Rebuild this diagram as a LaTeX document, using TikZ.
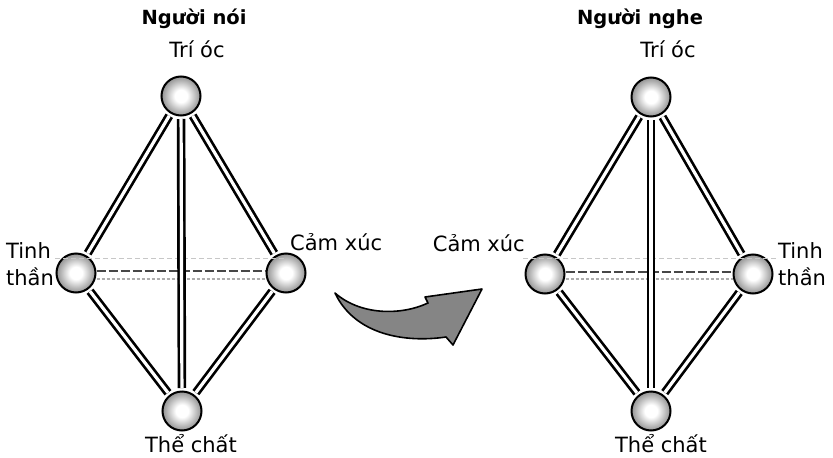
\documentclass[tikz,border=0pt]{standalone}
\usepackage{fontspec}
\setmainfont{DejaVu Sans}
\pgfdeclareradialshading{spherefill}{\pgfpoint{0bp}{0bp}}{color(0bp)=(white); color(8bp)=(white); color(28bp)=(black!50); color(50bp)=(black!72)}
\tikzset{
  ball/.style={circle, minimum size=39pt, inner sep=0pt, draw=black, line width=2pt, shading=spherefill},
  rod/.style={draw=black, line width=2.7pt, double=white, double distance=3.2pt, shorten <=2.5pt, shorten >=2.5pt},
  darkdash/.style={draw=black!72, line width=2.2pt, dash pattern=on 9pt off 3pt},
  lightdash/.style={draw=black!32, line width=1.1pt, dash pattern=on 3pt off 2pt},
  faint/.style={draw=black!22, line width=0.6pt, dash pattern=on 5pt off 3pt},
  lbl/.style={font=\fontsize{21}{24}\selectfont, inner sep=0pt},
  headlbl/.style={font=\bfseries\fontsize{19.5}{22}\selectfont, inner sep=0pt},
  bigarrow/.style={fill=black!48, draw=black, line width=1.6pt, line join=round},
}
\begin{document}
\begin{tikzpicture}[x=1pt, y=-1pt]
\fill[white] (0,0) rectangle (833,458);
\useasboundingbox (0,0) rectangle (833,458);

% ---------- left diamond (speaker) ----------
\node[ball] (lt) at (181,96) {};
\node[ball] (ll) at (76,273) {};
\node[ball] (lr) at (286,273) {};
\node[ball] (lb) at (182,411) {};

\coordinate (lf1) at (55,258);
\coordinate (lf2) at (287,258);
\draw[faint] (lf1) -- (lf2);
\draw[darkdash] ([yshift=2pt]ll.east) -- ([yshift=2pt]lr.west);
\draw[lightdash] ([yshift=-6pt]ll.east) -- ([yshift=-6pt]lr.west);

\draw[rod] (lt) -- (ll);
\draw[rod] (lt) -- (lr);
\draw[rod] (lt) -- (lb);
\draw[rod] (ll) -- (lb);
\draw[rod] (lr) -- (lb);

\node[headlbl, anchor=base] (hl) at (194,24) {Người nói};
\node[lbl, anchor=base] (tl) at (197,57) {Trí óc};
\node[lbl, anchor=base west] (tinhl) at (6,258) {Tinh};
\node[lbl, anchor=base west] (thanl) at (6,285) {thần};
\node[lbl, anchor=base west] (caml) at (290,250) {Cảm xúc};
\node[lbl, anchor=base] (thel) at (191,452) {Thể chất};

% ---------- right diamond (listener) ----------
\node[ball] (rt) at (651,97) {};
\node[ball] (rl) at (545,274) {};
\node[ball] (rr) at (753,274) {};
\node[ball] (rb) at (651,411) {};

\coordinate (rf1) at (523,258);
\coordinate (rf2) at (776,258);
\draw[faint] (rf1) -- (rf2);
\draw[darkdash] ([yshift=2pt]rl.east) -- ([yshift=2pt]rr.west);
\draw[lightdash] ([yshift=-5pt]rl.east) -- ([yshift=-5pt]rr.west);

\draw[rod] (rt) -- (rl);
\draw[rod] (rt) -- (rr);
\draw[rod] (rt) -- (rb);
\draw[rod] (rl) -- (rb);
\draw[rod] (rr) -- (rb);

\node[headlbl, anchor=base] (hr) at (640,24) {Người nghe};
\node[lbl, anchor=base] (tr) at (668,57) {Trí óc};
\node[lbl, anchor=base west] (tinhr) at (778,258) {Tinh};
\node[lbl, anchor=base west] (thanr) at (778,285) {thần};
\node[lbl, anchor=base east] (camr) at (525,251) {Cảm xúc};
\node[lbl, anchor=base] (ther) at (661,452) {Thể chất};

% ---------- curved arrow ----------
\filldraw[bigarrow] (335,293) .. controls (360,315) and (400,316) .. (428,303)
  -- (425,297) -- (482,289) -- (453,345) -- (446,337)
  .. controls (405,343) and (355,335) .. cycle;
\end{tikzpicture}
\end{document}
